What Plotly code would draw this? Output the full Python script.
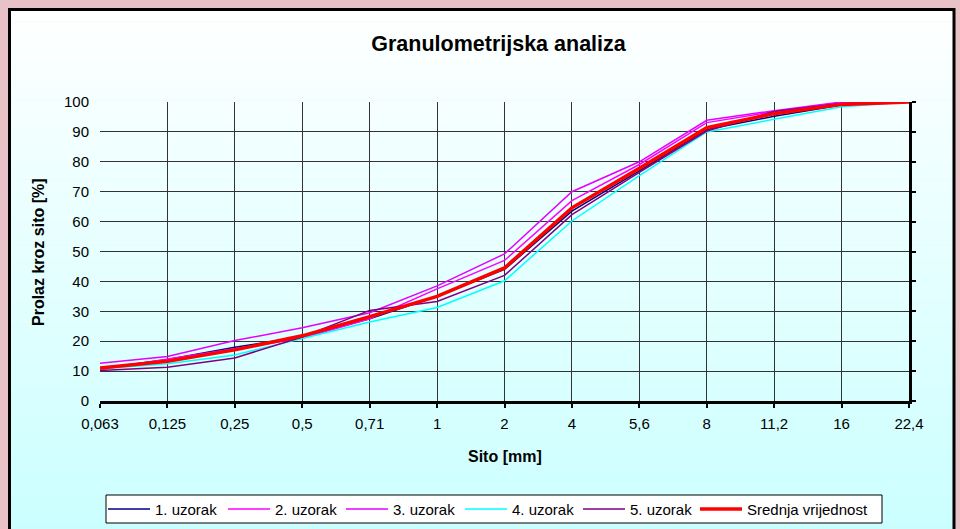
import plotly.graph_objects as go

categories = ["0,063", "0,125", "0,25", "0,5", "0,71", "1", "2", "4", "5,6", "8", "11,2", "16", "22,4"]
uzorak_1 = [10.9, 13.9, 18.0, 21.5, 27.5, 35.0, 44.0, 63.5, 77.0, 90.8, 95.2, 99.0, 100]
uzorak_2 = [10.5, 13.9, 17.5, 21.0, 27.5, 37.5, 47.0, 67.0, 79.1, 93.1, 96.8, 99.8, 100]
uzorak_3 = [12.6, 14.9, 20.2, 24.5, 29.5, 38.5, 49.2, 70.0, 80.0, 93.9, 97.1, 100, 100]
uzorak_4 = [10.8, 12.5, 15.4, 20.8, 26.4, 31.3, 40.2, 60.2, 75.4, 90.0, 94.3, 98.4, 100]
uzorak_5 = [10.2, 11.3, 14.4, 21.4, 30.3, 33.3, 42.0, 62.3, 76.5, 90.3, 96.8, 99.5, 100]
srednja = [11.0, 13.3, 17.1, 21.8, 28.2, 35.0, 44.5, 64.6, 77.8, 91.4, 96.1, 99.2, 100]
y_ticks = [0, 10, 20, 30, 40, 50, 60, 70, 80, 90, 100]

series = [
    ("1. uzorak", uzorak_1, "#000080", 1.5),
    ("2. uzorak", uzorak_2, "#FF00FF", 1.5),
    ("3. uzorak", uzorak_3, "#E600FF", 1.5),
    ("4. uzorak", uzorak_4, "#00FFFF", 1.5),
    ("5. uzorak", uzorak_5, "#800080", 1.5),
    ("Srednja vrijednost", srednja, "#FF0000", 3.5),
]

W, H = 960, 529
L, R, T, B = 100, 909, 102, 401  # plot area in pixels
FONT = "Arial, Liberation Sans, sans-serif"

def px(x):
    return (x - L) / (R - L)

def py(y):
    return (B - y) / (B - T)

fig = go.Figure()
for name, vals, color, w in series:
    fig.add_trace(go.Scatter(x=categories, y=vals, name=name, mode="lines",
                             line=dict(color=color, width=w), showlegend=False))

# secondary axis to draw right-hand axis line with ticks
fig.add_trace(go.Scatter(x=categories, y=srednja, yaxis="y2", showlegend=False,
                         mode="lines", line=dict(color="rgba(0,0,0,0)"), hoverinfo="skip"))

shapes = []
annotations = []
# chart-area gradient (white -> light cyan)
top_px, bot_px = 8, 535
n = 40
for i in range(n):
    y0 = top_px + (bot_px - top_px) * i / n
    y1 = top_px + (bot_px - top_px) * (i + 1) / n
    t = (i + 0.5) / n
    r = int(round(255 - (255 - 202) * t))
    col = f"rgb({r},255,255)"
    shapes.append(dict(type="rect", xref="paper", yref="paper", layer="below",
                       x0=px(8), x1=px(955), y0=py(y1) - 0.002, y1=py(y0),
                       line=dict(width=0), fillcolor=col))
# chart-area border
shapes.append(dict(type="rect", xref="paper", yref="paper", layer="below",
                   x0=px(9.5), x1=px(954), y0=py(540), y1=py(9.5),
                   line=dict(color="black", width=3), fillcolor="rgba(0,0,0,0)"))

# custom legend (box, line samples, labels)
leg_left, leg_right, leg_top, leg_bot = 106, 882, 495, 523
leg_mid = (leg_top + leg_bot) / 2
shapes.append(dict(type="rect", xref="paper", yref="paper", layer="above",
                   x0=px(leg_left), x1=px(leg_right), y0=py(leg_bot), y1=py(leg_top),
                   line=dict(color="black", width=1), fillcolor="white"))
item_starts = [108, 228, 346, 465, 583, 700]
line_len = 42
for (name, vals, color, w), x0 in zip(series, item_starts):
    shapes.append(dict(type="line", xref="paper", yref="paper", layer="above",
                       x0=px(x0), x1=px(x0 + line_len), y0=py(leg_mid), y1=py(leg_mid),
                       line=dict(color=color, width=w if w > 2 else 1.5)))
    annotations.append(dict(text=name, xref="paper", yref="paper", showarrow=False,
                            x=px(x0 + line_len + 3), y=py(leg_mid), xanchor="left",
                            yanchor="middle", font=dict(size=15, family=FONT)))

# axis titles
annotations.append(dict(text="<b>Sito [mm]</b>", xref="paper", yref="paper", showarrow=False,
                        x=px(505), y=py(456), xanchor="center", yanchor="middle",
                        font=dict(size=16, family=FONT)))
annotations.append(dict(text="<b>Prolaz kroz sito [%]</b>", xref="paper", yref="paper",
                        showarrow=False, textangle=-90,
                        x=px(38), y=py(252), xanchor="center", yanchor="middle",
                        font=dict(size=16, family=FONT)))

fig.update_layout(
    width=W, height=H,
    margin=dict(l=L, r=W - R, t=T, b=H - B, pad=0),
    paper_bgcolor="#E8C2C6",
    plot_bgcolor="rgba(0,0,0,0)",
    font=dict(family=FONT, size=15, color="black"),
    title=dict(text="<b>Granulometrijska analiza</b>", xref="paper", x=px(498.5),
               xanchor="center", yref="container", y=1 - 43 / H, yanchor="middle",
               font=dict(size=21.5)),
    xaxis=dict(type="category", range=[0, len(categories) - 1],
               showgrid=True, gridcolor="#333333", gridwidth=1,
               showline=True, linecolor="black", linewidth=3,
               ticks="outside", ticklen=4, tickwidth=2, tickcolor="black",
               ticklabelstandoff=3,
               tickfont=dict(size=15), zeroline=False, fixedrange=True),
    yaxis=dict(range=[0, 100], tickvals=y_ticks, showgrid=True, gridcolor="#333333",
               gridwidth=1, showline=False, ticks="", ticklabelstandoff=10,
               tickfont=dict(size=15), zeroline=False),
    yaxis2=dict(range=[0, 100], tickvals=y_ticks, overlaying="y", side="right",
                showgrid=False, showline=True, linecolor="black", linewidth=3,
                ticks="outside", ticklen=4, tickwidth=2, tickcolor="black",
                showticklabels=False, zeroline=False),
    shapes=shapes,
    annotations=annotations,
    showlegend=False,
)

fig.write_html("out.html", config={"displayModeBar": False},
               post_script="document.body.style.margin='0';document.body.style.overflow='hidden';")
